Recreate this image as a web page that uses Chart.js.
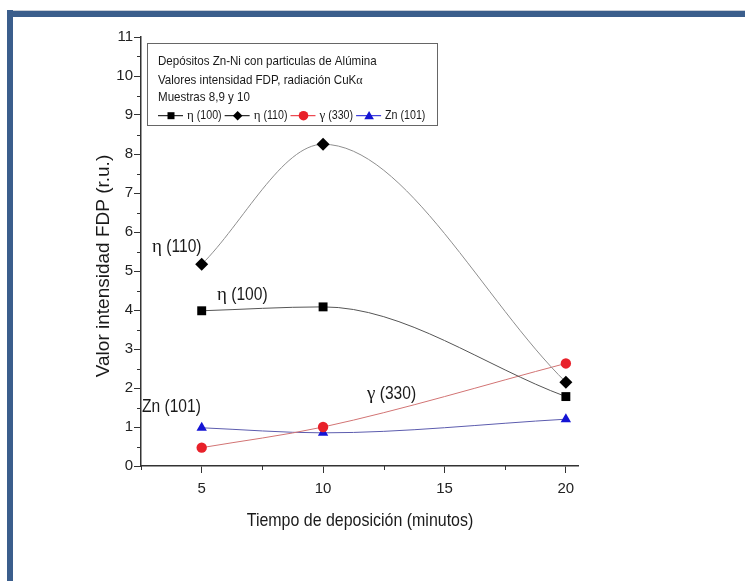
<!DOCTYPE html>
<html>
<head>
<meta charset="utf-8">
<title>Intensidad FDP</title>
<script src="https://cdn.jsdelivr.net/npm/chart.js@4/dist/chart.umd.min.js"></script>
<style>
  html, body { margin: 0; padding: 0; background: #fff; }
  #wrap { position: relative; width: 745px; height: 581px; overflow: hidden; }
  #frameTop { position: absolute; left: 7px; top: 10px; width: 738px; height: 6px; background: #3b5e8c; border-top: 1px solid #c9ced6; }
  #frameLeft { position: absolute; left: 7px; top: 10px; width: 6px; height: 571px; background: #3b5e8c; }
</style>
</head>
<body>
<div id="wrap">
  <canvas id="fdp-chart" width="745" height="581"></canvas>
  <div id="frameTop"></div>
  <div id="frameLeft"></div>
</div>
<script>
'use strict';

// Tiempo de deposición (minutos)
var minutos = [5, 10, 20];

// Valor intensidad FDP (r.u.) per reflection
var eta100 = [3.98, 4.08, 1.78];
var eta110 = [5.17, 8.25, 2.15];
var gamma330 = [0.47, 1.0, 2.63];
var zn101 = [0.98, 0.85, 1.2];

// axis ticks: labelled majors and unlabelled minors
var xMajorTicks = [5, 10, 15, 20];
var xMinorTicks = [2.5, 7.5, 12.5, 17.5];
var yMajorTicks = [0, 1, 2, 3, 4, 5, 6, 7, 8, 9, 10, 11];
var yMinorTicks = [0.5, 1.5, 2.5, 3.5, 4.5, 5.5, 6.5, 7.5, 8.5, 9.5, 10.5];

var legendTitle = [
  'Depósitos Zn-Ni con particulas de Alúmina',
  'Valores intensidad FDP, radiación CuK',
  'Muestras 8,9 y 10'
];

var SANS = '"Liberation Sans", Arial, sans-serif';
var SERIF = '"Liberation Serif", "Times New Roman", serif';
var INK = '#1a1a1a';

var toPoints = function (ys) {
  return ys.map(function (y, i) { return { x: minutos[i], y: y }; });
};

var series = [
  { label: 'η (100)', greek: 'η', rest: ' (100)', data: eta100, style: 'rect', radius: 6.3, color: '#000', line: '#555', legendLine: '#000' },
  { label: 'η (110)', greek: 'η', rest: ' (110)', data: eta110, style: 'rectRot', radius: 6.5, color: '#000', line: '#8e8e8e', legendLine: '#000' },
  { label: 'γ (330)', greek: 'γ', rest: ' (330)', data: gamma330, style: 'circle', radius: 5.2, color: '#e8212a', line: '#d27474', legendLine: '#e8212a' },
  { label: 'Zn (101)', greek: '', rest: 'Zn (101)', data: zn101, style: 'triangle', radius: 6, color: '#1414d4', line: '#5c5cae', legendLine: '#1414d4' }
];

// text squeezed horizontally, the labels are set in a narrow face
var drawNarrow = function (ctx, text, x, y, font, sx) {
  ctx.save();
  ctx.font = font;
  ctx.translate(x, y);
  ctx.scale(sx, 1);
  ctx.fillText(text, 0, 0);
  var w = ctx.measureText(text).width * sx;
  ctx.restore();
  return x + w;
};

// a label where the greek letter is set in a serif face
var drawMixed = function (ctx, greek, rest, x, y, size, sx) {
  ctx.textBaseline = 'middle';
  ctx.textAlign = 'left';
  if (greek) {
    x = drawNarrow(ctx, greek, x, y, size + 'px ' + SERIF, 1);
  }
  return drawNarrow(ctx, rest, x, y, size + 'px ' + SANS, sx);
};

var drawMarker = function (ctx, style, x, y, r) {
  ctx.beginPath();
  if (style === 'rect') {
    ctx.rect(x - r, y - r, 2 * r, 2 * r);
  } else if (style === 'rectRot') {
    ctx.moveTo(x, y - r); ctx.lineTo(x + r, y); ctx.lineTo(x, y + r); ctx.lineTo(x - r, y);
    ctx.closePath();
  } else if (style === 'circle') {
    ctx.arc(x, y, r, 0, Math.PI * 2);
  } else {
    ctx.moveTo(x, y - r); ctx.lineTo(x + r, y + r * 0.75); ctx.lineTo(x - r, y + r * 0.75);
    ctx.closePath();
  }
  ctx.fill();
};

// legend box, curve labels, minor ticks and axis titles
var decorations = {
  id: 'decorations',
  afterDraw: function (chart) {
    var ctx = chart.ctx;
    var xs = chart.scales.x;
    var ys = chart.scales.y;
    var area = chart.chartArea;
    ctx.save();

    // minor ticks
    ctx.strokeStyle = '#333';
    ctx.lineWidth = 1;
    ctx.beginPath();
    xMinorTicks.forEach(function (v) {
      var px = Math.round(xs.getPixelForValue(v)) + 0.5;
      ctx.moveTo(px, area.bottom);
      ctx.lineTo(px, area.bottom + 4);
    });
    yMinorTicks.forEach(function (v) {
      var py = Math.round(ys.getPixelForValue(v)) + 0.5;
      ctx.moveTo(area.left, py);
      ctx.lineTo(area.left - 4, py);
    });
    ctx.stroke();

    // legend box
    ctx.fillStyle = '#fff';
    ctx.fillRect(147.5, 43.5, 290, 82);
    ctx.strokeStyle = '#666';
    ctx.strokeRect(147.5, 43.5, 290, 82);

    ctx.fillStyle = INK;
    ctx.textBaseline = 'middle';
    ctx.textAlign = 'left';
    var f13 = '13px ' + SANS;
    drawNarrow(ctx, legendTitle[0], 158, 61.7, f13, 0.89);
    var endX = drawNarrow(ctx, legendTitle[1], 158, 80.7, f13, 0.89);
    drawNarrow(ctx, 'α', endX, 81, '12px ' + SERIF, 1);
    drawNarrow(ctx, legendTitle[2], 158, 97.7, f13, 0.89);

    var x = 158;
    var rowY = 115.7;
    series.forEach(function (s) {
      ctx.strokeStyle = s.legendLine;
      ctx.lineWidth = 1;
      ctx.beginPath();
      ctx.moveTo(x, rowY);
      ctx.lineTo(x + 25, rowY);
      ctx.stroke();
      ctx.fillStyle = s.color;
      drawMarker(ctx, s.style, x + 13, rowY, s.style === 'rect' ? 3.5 : 4.8);
      ctx.fillStyle = INK;
      x = drawMixed(ctx, s.greek, s.rest, x + 29, rowY, 13, 0.82) + 3;
    });

    // labels next to each curve
    ctx.fillStyle = INK;
    drawMixed(ctx, 'η', ' (110)', 152, 246.7, 19, 0.82);
    drawMixed(ctx, 'η', ' (100)', 217, 295, 19, 0.82);
    drawMixed(ctx, '', 'Zn (101)', 142, 406.7, 19, 0.82);
    drawMixed(ctx, 'γ', ' (330)', 367, 394, 19, 0.82);

    // x axis title
    ctx.textAlign = 'center';
    drawNarrow(ctx, 'Tiempo de deposición (minutos)', 360, 521, '19px ' + SANS, 0.84);

    // y axis title
    ctx.translate(104, 266);
    ctx.rotate(-Math.PI / 2);
    ctx.font = '19px ' + SANS;
    ctx.fillText('Valor intensidad FDP (r.u.)', 0, 0);

    ctx.restore();
  }
};

var datasets = series.map(function (s) {
  return {
    label: s.label,
    data: toPoints(s.data),
    borderColor: s.line,
    borderWidth: 1,
    cubicInterpolationMode: 'monotone',
    pointStyle: s.style,
    pointRadius: s.radius,
    pointBackgroundColor: s.color,
    pointBorderColor: s.color,
    pointBorderWidth: 0,
    fill: false
  };
});

var ctxChart = document.getElementById('fdp-chart').getContext('2d');

var fdpChart = new Chart(ctxChart, {
  type: 'line',
  data: { datasets: datasets },
  plugins: [decorations],
  options: {
    responsive: false,
    animation: false,
    layout: { padding: { left: 90, top: 37, right: 167, bottom: 45 } },
    plugins: {
      legend: { display: false },
      tooltip: { enabled: false }
    },
    scales: {
      x: {
        type: 'linear',
        min: 2.5,
        max: 20.5,
        afterBuildTicks: function (scale) {
          scale.ticks = xMajorTicks.map(function (v) { return { value: v }; });
        },
        afterFit: function (scale) { scale.height = 70; },
        ticks: {
          autoSkip: false,
          maxRotation: 0,
          padding: 7,
          color: '#222',
          font: { family: SANS, size: 15 }
        },
        grid: { drawOnChartArea: false, tickLength: 7, color: '#333' },
        border: { color: '#333', width: 1.5 }
      },
      y: {
        min: 0,
        max: 11,
        afterBuildTicks: function (scale) {
          scale.ticks = yMajorTicks.map(function (v) { return { value: v }; });
        },
        afterFit: function (scale) { scale.width = 51; },
        ticks: {
          autoSkip: false,
          padding: 1,
          color: '#222',
          font: { family: SANS, size: 15 }
        },
        grid: { drawOnChartArea: false, tickLength: 7, color: '#333' },
        border: { color: '#333', width: 1.5 }
      }
    }
  }
});
</script>
</body>
</html>
